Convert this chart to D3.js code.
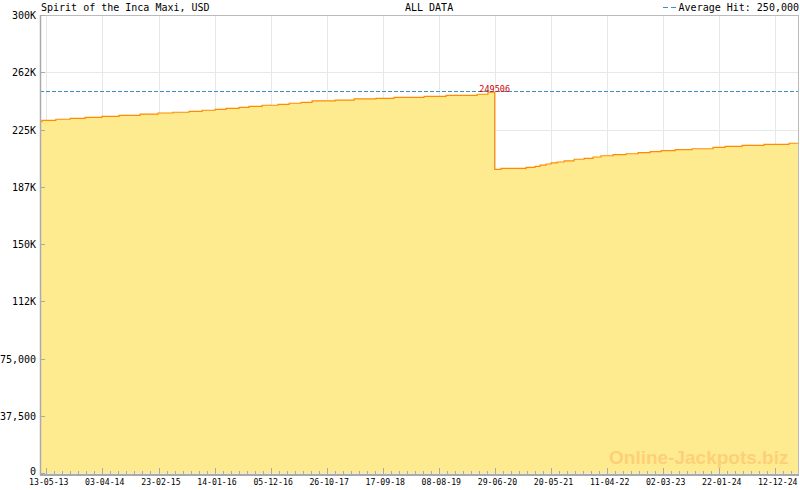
<!DOCTYPE html>
<html><head><meta charset="utf-8">
<script src="https://cdn.jsdelivr.net/npm/d3@7"></script>
<style>body{margin:0;background:#fff}svg{display:block}</style>
</head><body><svg id="c" width="800" height="490"></svg>
<script>
const dates=["2013-04-06","2013-04-18","2013-07-07","2013-09-28","2013-12-24","2014-04-01","2014-07-09","2014-11-08","2015-02-20","2015-05-18","2015-08-19","2015-11-03","2016-01-17","2016-03-21","2016-06-04","2016-08-01","2016-10-16","2017-01-17","2017-03-22","2017-05-30","2017-08-02","2017-12-14","2018-04-03","2018-08-08","2018-11-21","2019-05-14","2019-09-19","2020-03-17","2020-05-19","2020-06-27","2020-08-03","2020-12-26","2021-02-16","2021-03-17","2021-04-21","2021-05-20","2021-06-24","2021-08-04","2021-10-01","2021-11-28","2022-01-19","2022-03-06","2022-05-15","2022-07-29","2022-10-07","2022-12-16","2023-02-18","2023-05-10","2023-08-17","2023-12-16","2024-02-24","2024-06-02","2024-10-07","2025-03-01","2025-04-28"];
const values=[230100,231000,231700,232300,233000,233600,234300,235100,235800,236300,236900,237600,238200,238900,239500,240200,240900,241500,242200,242800,243700,244300,245000,245400,246100,246700,247400,248100,249506,198900,199600,200200,200900,201700,202400,203100,203700,204400,205500,206100,207000,207800,208500,209100,209800,210500,211100,211800,212400,213300,214000,214600,215300,216000,216000];
const xTickDates=["2013-05-13","2014-04-03","2015-02-23","2016-01-14","2016-12-05","2017-10-26","2018-09-17","2019-08-08","2020-06-29","2021-05-20","2022-04-11","2023-03-02","2024-01-22","2024-12-12"];
const yTicks=[0,37500,75000,112500,150000,187500,225000,262500,300000];
const yTickLabels=["0","37,500","75,000","112K","150K","187K","225K","262K","300K"];
const xDomain=["2013-04-06","2025-04-28"];
const averageHit=250000;
const peakLabel="249506";
const peakDate="2020-06-27";
const title="Spirit of the Inca Maxi, USD";
const subtitle="ALL DATA";
const legendText="Average Hit: 250,000";
const watermark="Online-Jackpots.biz";

const parse=d3.utcParse("%Y-%m-%d");
const fmt=d3.utcFormat("%d-%m-%y");
const L=40,R=799,T=15,B=473;
const x=d3.scaleUtc().domain(xDomain.map(parse)).range([L,R]);
const y=d3.scaleLinear().domain([0,300000]).range([B,T]);
const data=dates.map((d,i)=>({d:parse(d),v:values[i]}));
const svg=d3.select("#c");
const mono="'DejaVu Sans Mono', monospace";

// grid
const ticksX=xTickDates.map(parse);
svg.append("g").selectAll("line").data(yTicks).join("line")
  .attr("x1",L).attr("x2",R).attr("y1",d=>Math.round(y(d))+0.5).attr("y2",d=>Math.round(y(d))+0.5)
  .attr("stroke","#e8e8e8");
svg.append("g").selectAll("line").data(ticksX).join("line")
  .attr("x1",d=>Math.round(x(d))+0.5).attr("x2",d=>Math.round(x(d))+0.5).attr("y1",T).attr("y2",B)
  .attr("stroke","#e8e8e8");

// area + line
const area=d3.area().curve(d3.curveStepAfter).x(d=>x(d.d)).y0(y(0)).y1(d=>y(d.v));
const line=d3.line().curve(d3.curveStepAfter).x(d=>x(d.d)).y(d=>y(d.v));
svg.append("path").datum(data).attr("d",area).attr("fill","#feeb90");
svg.append("path").datum(data).attr("d",line).attr("fill","none").attr("stroke","#ff8c00").attr("stroke-width",1.2);

// average line
svg.append("line").attr("x1",L).attr("x2",R).attr("y1",Math.round(y(averageHit))+0.5).attr("y2",Math.round(y(averageHit))+0.5)
  .attr("stroke","#3a8fc4").attr("stroke-dasharray","4,2");

// frame
svg.append("line").attr("x1",L).attr("x2",R).attr("y1",T+0.5).attr("y2",T+0.5).attr("stroke","#bbb");
svg.append("line").attr("x1",R-0.5).attr("x2",R-0.5).attr("y1",T).attr("y2",B+2).attr("stroke","#bbb");
svg.append("line").attr("x1",L+0.5).attr("x2",L+0.5).attr("y1",T).attr("y2",B+3).attr("stroke","#aaa").attr("stroke-width",1.5);
svg.append("line").attr("x1",L).attr("x2",R).attr("y1",B+2).attr("y2",B+2).attr("stroke","#aaa").attr("stroke-width",2);

// y ticks + labels
svg.append("g").selectAll("line").data(yTicks).join("line")
  .attr("x1",L).attr("x2",L+5).attr("y1",d=>Math.round(y(d))+0.5).attr("y2",d=>Math.round(y(d))+0.5).attr("stroke","#aaa");
svg.append("g").selectAll("text").data(yTicks).join("text")
  .attr("x",36).attr("y",d=>d===0?y(d)+1.5:y(d)+4).attr("text-anchor","end")
  .attr("font-family",mono).attr("font-size",10).attr("fill","#000")
  .text((d,i)=>yTickLabels[i]);

// x ticks (major and minor)
const minor=[];
for(let i=0;i<ticksX.length;i++){
  const a=x(ticksX[i]);
  const step=(x(ticksX[1])-x(ticksX[0]))/7;
  for(let k=1;k<7;k++){const p=a+k*step; if(p<R-2) minor.push(p);}
}
svg.append("g").selectAll("line").data(minor).join("line")
  .attr("x1",d=>Math.round(d)+0.5).attr("x2",d=>Math.round(d)+0.5).attr("y1",B-2).attr("y2",B+1).attr("stroke","#aaa");
svg.append("g").selectAll("line").data(ticksX).join("line")
  .attr("x1",d=>Math.round(x(d))+0.5).attr("x2",d=>Math.round(x(d))+0.5).attr("y1",B-5).attr("y2",B+1).attr("stroke","#aaa");
svg.append("g").selectAll("text").data(ticksX).join("text")
  .attr("x",d=>x(d)+2.4).attr("y",485).attr("text-anchor","middle")
  .attr("font-family",mono).attr("font-size",8.2).attr("fill","#000")
  .text(d=>fmt(d));

// peak label
svg.append("text").attr("x",x(parse(peakDate))).attr("y",92).attr("text-anchor","middle")
  .attr("font-family",mono).attr("font-size",8.5).attr("fill","#d00000").text(peakLabel);

// titles
svg.append("text").attr("x",41).attr("y",11).attr("font-family",mono).attr("font-size",10).attr("fill","#000").text(title);
svg.append("text").attr("x",405).attr("y",11).attr("font-family",mono).attr("font-size",10).attr("fill","#000").text(subtitle);
svg.append("text").attr("x",799).attr("y",11).attr("text-anchor","end").attr("font-family",mono).attr("font-size",10).attr("fill","#000").text(legendText);
svg.append("line").attr("x1",663).attr("x2",677).attr("y1",7.5).attr("y2",7.5).attr("stroke","#3a8fc4").attr("stroke-dasharray","5,3");

// watermark
svg.append("text").attr("x",609).attr("y",464).attr("font-family","'Liberation Sans', Arial, sans-serif")
  .attr("font-weight","bold").attr("font-size",19).attr("fill","#fdd078").text(watermark);
</script></body></html>
